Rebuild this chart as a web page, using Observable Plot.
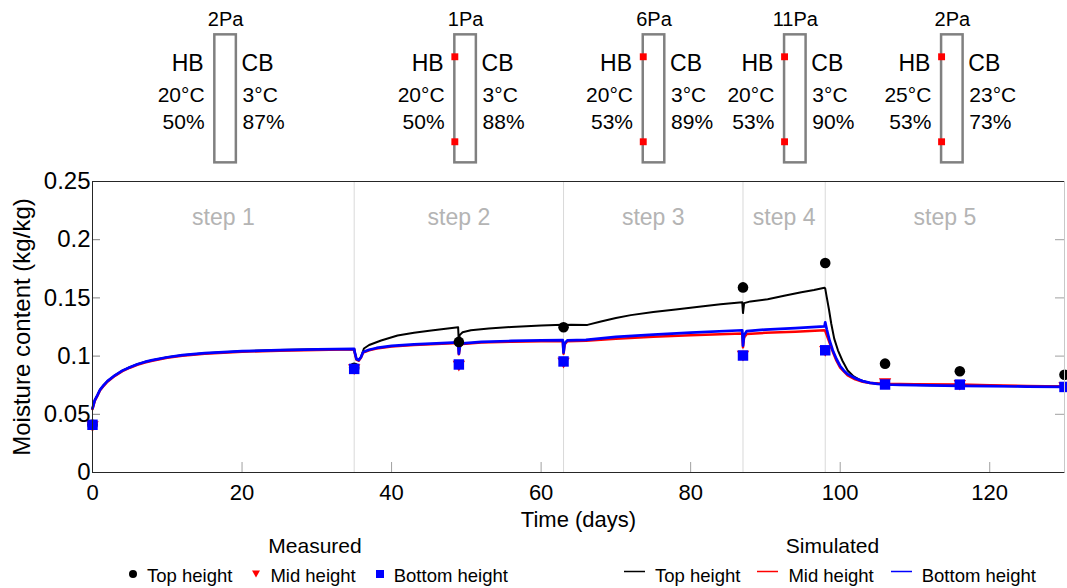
<!DOCTYPE html>
<html><head><meta charset="utf-8">
<script src="https://cdn.jsdelivr.net/npm/d3@7"></script>
<script src="https://cdn.jsdelivr.net/npm/@observablehq/plot@0.6"></script>
<style>
html,body{margin:0;padding:0;background:#fff;overflow:hidden;}
#chart{position:relative;width:1067px;height:588px;font-family:"Liberation Sans",Arial,sans-serif;color:#000;}
#chart svg{display:block;}
#legend{position:relative;width:1067px;height:58px;}
.ltitle{position:absolute;font-size:21px;line-height:20px;transform:translateX(-50%);white-space:nowrap;}
.lrow{position:absolute;display:flex;align-items:flex-start;font-size:18.5px;line-height:18px;white-space:nowrap;}
.lrow svg{flex:none;}
</style></head><body><div id="chart"></div>
<script>
// ---------- data ----------
const xTicks = [0, 20, 40, 60, 80, 100, 120];
const yTicks = [0, 0.05, 0.1, 0.15, 0.2, 0.25];
const stepBounds = [35, 63, 87, 98];
const stepNames = ["step 1", "step 2", "step 3", "step 4", "step 5"];
const stepMid = [17.5, 49, 75, 92.5, 114];

// boundary conditions per step (header)
const condCenter = [17.8, 49.9, 75.1, 94.0, 115.0];
const condPa = ["2Pa", "1Pa", "6Pa", "11Pa", "2Pa"];
const hbTemp = ["20°C", "20°C", "20°C", "20°C", "25°C"];
const hbRH = ["50%", "50%", "53%", "53%", "53%"];
const cbTemp = ["3°C", "3°C", "3°C", "3°C", "23°C"];
const cbRH = ["87%", "88%", "89%", "90%", "73%"];
const hasSensors = [false, true, true, true, true];

// measured moisture content
const measTime = [0, 35, 49, 63, 87, 98, 106, 116, 130];
const measTop = [0.041, 0.090, 0.1122, 0.1248, 0.159, 0.180, 0.0935, 0.087, 0.084];
const measMid = [0.041, 0.090, 0.0930, 0.0956, 0.1015, 0.1055, 0.0780, 0.0765, 0.0745];
const measBottom = [0.041, 0.089, 0.0928, 0.0954, 0.1005, 0.1050, 0.0756, 0.0755, 0.0735];

// simulated moisture content [day, kg/kg]
const simTop = [[0,0.055],[0.3,0.062],[0.7,0.067],[1,0.071],[1.5,0.075],[2,0.0785],[3,0.0835],[4,0.0875],[5,0.0905],[6,0.093],[7,0.095],[8,0.0965],[10,0.099],[12,0.1008],[15,0.1025],[20,0.1042],[25,0.1052],[30,0.1058],[35,0.1062],
 [35.05,0.104],[35.3,0.0975],[35.6,0.0965],[35.9,0.099],[36.3,0.1065],[37,0.1095],[38.6,0.1134],[40.8,0.1177],[43,0.120],[45.3,0.122],[48.9,0.1248],
 [49,0.111],[49.1,0.118],[49.5,0.1205],[50.6,0.1222],[53,0.1238],[56,0.125],[60,0.1262],[62.9,0.127],
 [63,0.1245],[63.15,0.1268],[64,0.127],[66.2,0.1268],[68,0.1298],[70,0.1327],[72,0.1352],[75,0.1378],[78,0.140],[81.4,0.1426],[84,0.1445],[86.9,0.1462],
 [87,0.137],[87.15,0.1455],[88,0.147],[90.3,0.1488],[92.5,0.1518],[94.8,0.1549],[96.5,0.1568],[97.9,0.1588],
 [98,0.158],[98.2,0.1506],[98.5,0.140],[98.8,0.128],[99.2,0.115],[99.7,0.105],[100.3,0.096],[101,0.0876],[101.8,0.0825],[102.8,0.079],[104,0.077],[105.5,0.0758],[108,0.0753],[112,0.075],[116,0.0748],[120,0.0745],[125,0.0741],[130,0.0737]];

const simMid = [[0,0.0545],[0.3,0.0615],[0.7,0.0665],[1,0.0705],[1.5,0.0745],[2,0.078],[3,0.083],[4,0.087],[5,0.090],[6,0.0925],[7,0.0945],[8,0.096],[10,0.0985],[12,0.1003],[15,0.102],[20,0.1037],[25,0.1047],[30,0.1053],[35,0.1058],
 [35.05,0.1035],[35.3,0.097],[35.6,0.096],[35.9,0.0985],[36.2,0.103],[37,0.105],[38,0.1065],[40,0.1083],[43,0.1095],[46,0.1105],[48.9,0.1112],
 [49,0.1015],[49.15,0.1085],[49.5,0.1105],[52,0.1116],[56,0.1123],[60,0.1127],[62.9,0.113],
 [63,0.102],[63.15,0.110],[63.5,0.1127],[66,0.1132],[70,0.1148],[75,0.1166],[80,0.118],[86.9,0.1195],
 [87,0.1075],[87.15,0.116],[87.5,0.119],[90,0.1200],[94,0.121],[97.9,0.1222],
 [98,0.1215],[98.5,0.113],[99,0.104],[99.5,0.096],[100,0.090],[101,0.0835],[102,0.080],[103,0.078],[104,0.0768],[106,0.0762],[110,0.0758],[116,0.0755],[120,0.0749],[125,0.0743],[130,0.0738]];

const simBottom = [[0,0.055],[0.3,0.062],[0.7,0.067],[1,0.071],[1.5,0.075],[2,0.0785],[3,0.0835],[4,0.0875],[5,0.0905],[6,0.093],[7,0.095],[8,0.0965],[10,0.099],[12,0.1008],[15,0.1025],[20,0.1042],[25,0.1052],[30,0.1058],[35,0.1062],
 [35.05,0.104],[35.3,0.0975],[35.6,0.0965],[35.9,0.099],[36.2,0.1035],[37,0.1055],[38,0.107],[40,0.1088],[43,0.110],[46,0.111],[48.9,0.1118],
 [49,0.102],[49.15,0.109],[49.5,0.111],[52,0.1122],[56,0.113],[60,0.1135],[62.9,0.1138],
 [63,0.103],[63.15,0.111],[63.5,0.1135],[66,0.114],[70,0.1165],[75,0.1185],[80,0.1202],[86.9,0.1222],
 [87,0.109],[87.15,0.118],[87.5,0.1215],[90,0.1228],[94,0.124],[97.9,0.1255],
 [98,0.129],[98.2,0.123],[98.6,0.113],[99,0.105],[99.5,0.0975],[100,0.0915],[100.5,0.0875],[101,0.0845],[102,0.081],[103,0.0785],[104,0.077],[105,0.0762],[106,0.0756],[108,0.0752],[112,0.0748],[116,0.0745],[120,0.0742],[125,0.0738],[130,0.0735]];

const legendLabels = ["Top height", "Mid height", "Bottom height"];
const seriesColors = ["#000000", "#ff0000", "#0000ff"];

// ---------- layout helpers ----------
const FONT = "Liberation Sans, Arial, sans-serif";
const W = 1067, ML = 92, MR = 3;
const xDomain = [0, 130];
const boxHalf = 1.44; // half width of wall sketch, days
const hdr = {pa: 0.114, hb: 0.372, temp: 0.557, rh: 0.718, boxTop: 0.202, boxBottom: 0.955, sTop: 0.331, sBottom: 0.831};

const conditions = condCenter.map((c, i) => ({center: c, pa: condPa[i], hbT: hbTemp[i], hbR: hbRH[i], cbT: cbTemp[i], cbR: cbRH[i], sensors: hasSensors[i]}));
const sensorPts = conditions.filter(d => d.sensors).flatMap(d => [{x: d.center - boxHalf, y: hdr.sTop}, {x: d.center - boxHalf, y: hdr.sBottom}]);

const header = Plot.plot({
  width: W, height: 170, marginLeft: ML, marginRight: MR, marginTop: 0, marginBottom: 0,
  x: {domain: xDomain, axis: null},
  y: {domain: [0, 1], range: [0, 170], axis: null},
  style: {fontFamily: FONT, background: "transparent", overflow: "visible"},
  marks: [
    Plot.rect(conditions, {x1: d => d.center - boxHalf, x2: d => d.center + boxHalf, y1: hdr.boxTop, y2: hdr.boxBottom, stroke: "#808080", strokeWidth: 2.5, fill: "none"}),
    Plot.dot(sensorPts, {x: "x", y: "y", symbol: "square", r: 3.9, fill: "#ff0000"}),
    Plot.text(conditions, {x: "center", y: hdr.pa, text: "pa", fontSize: 20, fill: "#000"}),
    Plot.text(conditions, {x: "center", y: hdr.hb, text: () => "HB", textAnchor: "end", dx: -22, fontSize: 23, fill: "#000"}),
    Plot.text(conditions, {x: "center", y: hdr.temp, text: "hbT", textAnchor: "end", dx: -21, fontSize: 21, fill: "#000"}),
    Plot.text(conditions, {x: "center", y: hdr.rh, text: "hbR", textAnchor: "end", dx: -21, fontSize: 21, fill: "#000"}),
    Plot.text(conditions, {x: "center", y: hdr.hb, text: () => "CB", textAnchor: "start", dx: 16, fontSize: 23, fill: "#000"}),
    Plot.text(conditions, {x: "center", y: hdr.temp, text: "cbT", textAnchor: "start", dx: 17, fontSize: 21, fill: "#000"}),
    Plot.text(conditions, {x: "center", y: hdr.rh, text: "cbR", textAnchor: "start", dx: 17, fontSize: 21, fill: "#000"})
  ]
});

const meas = (vals) => measTime.map((t, i) => ({t, v: vals[i]}));

const main = Plot.plot({
  width: W, height: 360, marginTop: 11, marginBottom: 58, marginLeft: ML, marginRight: MR,
  x: {domain: xDomain},
  y: {domain: [0, 0.25]},
  style: {fontFamily: FONT, background: "transparent", overflow: "visible", color: "#000"},
  marks: [
    Plot.ruleX(stepBounds, {stroke: "#d9d9d9", strokeWidth: 1}),
    Plot.text(stepNames, {x: (d, i) => stepMid[i], y: 0.219, text: d => d, fill: "#b4b4b4", fontSize: 23}),
    Plot.line(simTop, {x: d => d[0], y: d => d[1], stroke: seriesColors[0], strokeWidth: 2}),
    Plot.line(simMid, {x: d => d[0], y: d => d[1], stroke: seriesColors[1], strokeWidth: 2.5}),
    Plot.line(simBottom, {x: d => d[0], y: d => d[1], stroke: seriesColors[2], strokeWidth: 2.7}),
    Plot.dot(meas(measTop), {x: "t", y: "v", symbol: "circle", r: 5.3, fill: seriesColors[0]}),
    Plot.dot(meas(measMid), {x: "t", y: "v", symbol: "triangle", rotate: 180, r: 4.6, fill: seriesColors[1]}),
    Plot.dot(meas(measBottom), {x: "t", y: "v", symbol: "square", r: 5.9, fill: seriesColors[2]}),
    Plot.axisY({ticks: yTicks, tickFormat: d => String(d), tickSize: -8, tickPadding: 10, stroke: "#808080", fill: "#000", fontSize: 24,
      label: "Moisture content (kg/kg)", labelAnchor: "center", labelOffset: 80, labelArrow: "none"}),
    Plot.axisX({ticks: xTicks, tickFormat: d => String(d), tickSize: -10, tickPadding: 22, stroke: "#a0a0a0", fill: "#000", fontSize: 22,
      label: "Time (days)", labelAnchor: "center", labelOffset: 54, labelArrow: "none"}),
    Plot.axisY({anchor: "right", ticks: yTicks, tickSize: -10, tickFormat: () => "", label: null, stroke: "#a0a0a0"}),
    Plot.ruleY([0.25], {stroke: "#262626", strokeWidth: 1}),
    Plot.ruleX([130], {stroke: "#c8c8c8", strokeWidth: 1}),
    Plot.ruleX([0], {stroke: "#262626", strokeWidth: 1}),
    Plot.ruleY([0], {stroke: "#262626", strokeWidth: 1})
  ]
});

const chart = document.getElementById("chart");
chart.appendChild(header);
chart.appendChild(main);

// ---------- legend ----------
const legend = document.createElement("div");
legend.id = "legend";
chart.appendChild(legend);
const NS = "http://www.w3.org/2000/svg";
function sw(kind, color) {
  const s = document.createElementNS(NS, "svg");
  const w = kind === "line" ? 21 : 8;
  s.setAttribute("width", w); s.setAttribute("height", 18);
  let el;
  if (kind === "line") { el = document.createElementNS(NS, "line"); el.setAttribute("x1", 0); el.setAttribute("x2", 21); el.setAttribute("y1", 4.5); el.setAttribute("y2", 4.5); el.setAttribute("stroke", color); el.setAttribute("stroke-width", 1.5); }
  else if (kind === "circle") { el = document.createElementNS(NS, "circle"); el.setAttribute("cx", 4); el.setAttribute("cy", 7); el.setAttribute("r", 4); el.setAttribute("fill", color); }
  else if (kind === "tri") { el = document.createElementNS(NS, "path"); el.setAttribute("d", "M0,3.5L8,3.5L4,10.5Z"); el.setAttribute("fill", color); }
  else { el = document.createElementNS(NS, "rect"); el.setAttribute("x", 0); el.setAttribute("y", 3); el.setAttribute("width", 8); el.setAttribute("height", 8); el.setAttribute("fill", color); }
  s.appendChild(el); return s;
}
function group(title, titleX, rowX, kinds, gap, between) {
  const t = document.createElement("div"); t.className = "ltitle"; t.textContent = title;
  t.style.left = titleX + "px"; t.style.top = "6px"; legend.appendChild(t);
  const r = document.createElement("div"); r.className = "lrow"; r.style.left = rowX + "px"; r.style.top = "36.5px";
  legendLabels.forEach((lab, i) => {
    const s = sw(kinds[i], seriesColors[i]);
    s.style.marginRight = gap + "px";
    if (i > 0) s.style.marginLeft = between + "px";
    r.appendChild(s);
    const sp = document.createElement("span"); sp.textContent = lab; r.appendChild(sp);
  });
  legend.appendChild(r);
}
group("Measured", 315, 129, ["circle", "tri", "square"], 10, 20);
group("Simulated", 832.5, 624, ["line", "line", "line"], 10, 17);
</script></body></html>
